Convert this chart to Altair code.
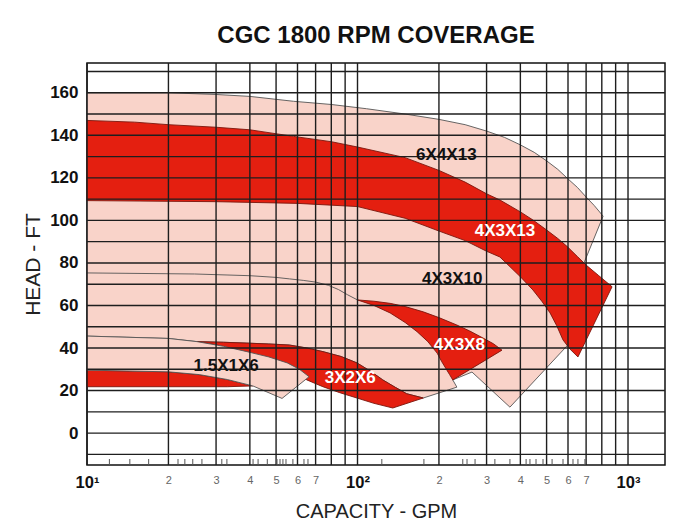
import altair as alt
import pandas as pd

# ---------------- data ----------------
X_DOMAIN = [10, 1370]
Y_DOMAIN = [-15, 174]

x_grid = [10, 20, 30, 40, 50, 60, 70, 80, 90,
          100, 200, 300, 400, 500, 600, 700, 800, 900, 1000]
y_grid = [-10, 0, 10, 20, 30, 40, 50, 60, 70, 80, 90, 100, 110, 120, 130, 140, 150, 160, 170]
y_labels = [0, 20, 40, 60, 80, 100, 120, 140, 160]

minor_ticks = [12.1, 14.4, 16.9, 21.7, 23.0, 24.6, 26.6, 31.5, 32.9, 41.1, 42.9, 46.4,
               50.4, 51.7, 53.0, 54.4, 57.7, 63.4, 65.6, 123, 176, 245, 254, 272, 322,
               366, 420, 434, 457, 485, 524, 575, 626, 653, 693]

# 6X4X13 (light): top curve, right edge, then back under the 4X3X13 band
p6x4x13_x = [10, 20, 30, 40, 58, 80, 108, 150, 200, 250, 300, 350, 400, 450, 500, 550,
             600, 650, 700, 750, 809,
             690, 650, 596, 500, 400, 300, 200, 108, 58, 20, 10]
p6x4x13_y = [160, 160, 159.2, 158.3, 156, 154.5, 152.5, 150, 147.5, 145, 142, 139, 135.5,
             132, 128, 124, 119.5, 115.5, 111, 107, 102,
             80.5, 78, 82.7, 90.5, 99, 107.5, 118.5, 129, 134.5, 140, 142]

# 4X3X13 (red band): top curve, right edge, bottom curve back
r4x3x13_x = [10, 15, 20, 30, 40, 58, 80, 100, 150, 200, 250, 300, 336, 400, 445, 500,
             550, 596, 650, 700, 780, 873,
             653, 610, 575, 545, 515, 480, 445, 400, 336, 300, 250, 200, 150, 100, 60,
             30, 10]
r4x3x13_y = [147, 146.2, 145, 143.8, 142.6, 139.5, 137, 134.5, 129.5, 123.5, 118, 112.5,
             109.6, 104, 100.2, 95.5, 91.5, 87.7, 83, 79, 74, 68.8,
             35.8, 39.5, 43.8, 50.5, 56.5, 62, 67.3, 73.5, 82.8, 85.5, 90.5, 95, 101,
             106.5, 108, 108.8, 109.3]

# light region between the bands (4X3X10 / 3X2X6 coverage)
pmid_x = [10, 60, 100, 150, 200, 250, 300, 336, 400, 445, 480, 515, 545, 575, 605,
          366, 265, 225, 233, 175,
          152, 138, 124, 112, 99.5, 87, 74.5, 65, 56, 47, 39, 32, 25.5, 20, 10]
pmid_y = [114.3, 113, 111.5, 106, 100, 95.5, 90.5, 87.8, 78.5, 72.3, 67, 61.5, 55.5,
          48.8, 42,
          12.2, 28.7, 25, 21.6, 16.5,
          18.5, 21.5, 25, 29, 33, 36, 38.3, 40, 41.4, 41.9, 42.3, 42.7, 43, 44.5, 45.6]

# 4X3X10 upper curve (thin line)
l4x3x10_x = [10, 25, 40, 50, 56, 63, 70, 78, 85, 92, 100]
l4x3x10_y = [75.3, 74.8, 74, 73.2, 72.5, 71.8, 71, 69.5, 67.5, 65, 62.6]

# 4X3X8 (red)
r4x3x8_x = [100, 115, 132, 150, 175, 200, 233, 260, 291, 318, 342,
            225, 219, 214, 205, 197, 182, 166, 150, 132, 115]
r4x3x8_y = [62.6, 62, 61, 59.5, 57, 54.3, 50.8, 48, 44.7, 42, 39,
            25, 27.5, 29.6, 33.5, 37.6, 43, 47.7, 52, 56.5, 60]

# 3X2X6 (red)
r3x2x6_x = [25.5, 32, 39, 47, 56, 65, 74.5, 87, 99.5, 112, 124, 138, 152, 175,
            135, 115, 99.5, 86, 74.5, 65, 55, 40, 30]
r3x2x6_y = [43, 42.7, 42.3, 41.9, 41.4, 40, 38.3, 36, 33, 29, 25, 21.5, 18.5, 16.5,
            11.8, 14, 16.5, 19, 21.8, 25, 31, 37.5, 41.5]

# lower red band at the left
rlow_x = [10, 20, 26, 33, 41, 33, 10]
rlow_y = [29.6, 28.8, 27.5, 25.2, 22.2, 21.8, 21.8]

# 1.5X1X6 (light)
p15x1x6_x = [10, 20, 25.5, 32, 39, 47, 55, 61, 66.2, 52.6, 41, 33, 26, 20, 10]
p15x1x6_y = [45.6, 44.5, 43, 40.8, 38.3, 35.8, 33, 30, 26.5, 16.3, 22.2, 25.2, 27.5,
             28.8, 29.6]

label_text = ["6X4X13", "4X3X13", "4X3X10", "4X3X8", "3X2X6", "1.5X1X6"]
label_x = [213, 351, 224, 238, 94, 32.7]
label_y = [130.6, 94.8, 72.5, 41.4, 26.1, 31.5]
label_col = ["#111111", "#ffffff", "#111111", "#ffffff", "#ffffff", "#111111"]

# ---------------- styling ----------------
PINK = "#f9d3c9"
RED = "#e41f10"
GRID = "#1e1e1e"
FONT = "Liberation Sans"

big = "datum.value == 10 || datum.value == 100 || datum.value == 1000"
x_label_expr = (
    "datum.value == 10 ? '10\u00b9' : datum.value == 100 ? '10\u00b2' : "
    "datum.value == 1000 ? '10\u00b3' : "
    "(datum.value < 100 ? (datum.value <= 70 ? format(datum.value / 10, 'd') : '') : "
    "(datum.value <= 700 ? format(datum.value / 100, 'd') : ''))"
)

x_axis = alt.Axis(
    values=x_grid, labelExpr=x_label_expr, grid=False, ticks=False, domain=False,
    labelFlush=False, labelPadding=9, labelFont=FONT, labelOverlap=False,
    labelFontSize={"condition": {"test": big, "value": 16.5}, "value": 11},
    labelFontWeight={"condition": {"test": big, "value": "bold"}, "value": "normal"},
    labelColor={"condition": {"test": big, "value": "#111111"}, "value": "#666666"},
    title="CAPACITY - GPM", titleFont=FONT, titleFontSize=20, titleFontWeight="normal",
    titleColor="#222222", titlePadding=11,
)
y_axis = alt.Axis(
    values=y_labels, grid=False, ticks=False, domain=False, labelPadding=9,
    labelFont=FONT, labelFontSize=17, labelFontWeight="bold", labelColor="#111111",
    title="HEAD - FT", titleFont=FONT, titleFontSize=21, titleFontWeight="normal",
    titleColor="#222222", titlePadding=6,
)

X = alt.X("x:Q", scale=alt.Scale(type="log", domain=X_DOMAIN, nice=False), axis=x_axis)
Y = alt.Y("y:Q", scale=alt.Scale(domain=Y_DOMAIN, nice=False, zero=False), axis=y_axis)


def frame(xs, ys):
    return pd.DataFrame({"x": xs, "y": ys, "i": list(range(len(xs)))})


def polygon(xs, ys, fill, stroke):
    return alt.Chart(frame(xs, ys)).mark_line(
        interpolate="linear-closed", fill=fill, stroke=stroke, strokeWidth=0.9,
        fillOpacity=1,
    ).encode(x=X, y=Y, order=alt.Order("i:Q"))


layers = [
    polygon(p6x4x13_x, p6x4x13_y, PINK, "#555555"),
    polygon(pmid_x, pmid_y, PINK, "#555555"),
    alt.Chart(frame(l4x3x10_x, l4x3x10_y)).mark_line(color="#555555", strokeWidth=0.9)
    .encode(x=X, y=Y, order=alt.Order("i:Q")),
    polygon(r4x3x13_x, r4x3x13_y, RED, "#7a150c"),
    polygon(r4x3x8_x, r4x3x8_y, RED, "#7a150c"),
    polygon(r3x2x6_x, r3x2x6_y, RED, "#7a150c"),
    polygon(rlow_x, rlow_y, RED, "#7a150c"),
    polygon(p15x1x6_x, p15x1x6_y, PINK, "#555555"),
    alt.Chart(pd.DataFrame({"x": x_grid})).mark_rule(color=GRID, strokeWidth=1.4)
    .encode(x=X),
    alt.Chart(pd.DataFrame({"y": y_grid})).mark_rule(color=GRID, strokeWidth=1.4)
    .encode(y=Y),
    alt.Chart(pd.DataFrame({"x": minor_ticks})).mark_rule(color="#555555", strokeWidth=1)
    .encode(x=X, y=alt.value(402), y2=alt.value(396)),
    alt.Chart(pd.DataFrame({"x": label_x, "y": label_y, "label": label_text, "c": label_col}))
    .mark_text(font=FONT, fontSize=17, fontWeight="bold", align="center", baseline="middle")
    .encode(x=X, y=Y, text="label:N", color=alt.Color("c:N", scale=None)),
]

chart = alt.layer(*layers).properties(
    width=578, height=402,
    autosize=alt.AutoSizeParams(type="none"),
    padding={"left": 79, "top": 55, "right": 10, "bottom": 58},
    title=alt.TitleParams("CGC 1800 RPM COVERAGE", font=FONT, fontSize=24,
                          fontWeight="bold", color="#111111", offset=14, anchor="middle"),
    background="white",
).configure_view(stroke="#111111", strokeWidth=1.5)

chart.save("out.html", embed_options={"renderer": "svg", "actions": False})
